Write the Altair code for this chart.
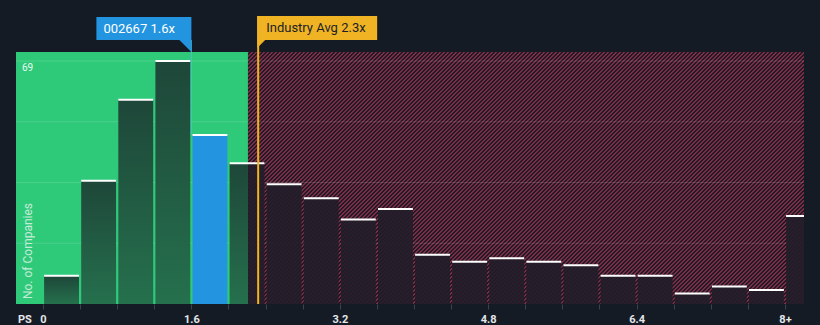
import math
import altair as alt
import pandas as pd

# ---------------- data ----------------
bin_starts = [0.0, 0.4, 0.8, 1.2, 1.6, 2.0, 2.4, 2.8, 3.2, 3.6, 4.0,
              4.4, 4.8, 5.2, 5.6, 6.0, 6.4, 6.8, 7.2, 7.6, 8.0]
counts = [8, 35, 58, 69, 48, 40, 34, 30, 24, 27, 14,
          12, 13, 12, 11, 8, 8, 3, 5, 4, 25]
bin_width = 0.4
tick_values = [0, 1.6, 3.2, 4.8, 6.4, 8.0]
tick_labels = ["0", "1.6", "3.2", "4.8", "6.4", "8+"]
grid_values = [17.25, 34.5, 51.75, 69]
max_label = "69"
company_ps = 1.6
industry_avg = 2.32
industry_label = "Industry Avg 2.3x"
company_label = "002667 1.6x"
green_zone_end = 2.21

# ---------------- layout / style ----------------
W, H = 788, 252
XMIN, XMAX = -0.291, 8.205
YMAX = 71.56
BG = "#151b24"
GREEN = "#2fc97a"
BLUE = "#2394df"
GOLD = "#f0b323"
GAP = 0.012

xscale = alt.Scale(domain=[XMIN, XMAX], nice=False, zero=False)
yscale = alt.Scale(domain=[0, YMAX], nice=False, zero=False)

edges = [round(bin_starts[0] + bin_width * i, 2) for i in range(len(bin_starts))]
expr = "''"
for v, l in reversed(list(zip(tick_values, tick_labels))):
    expr = f"round(datum.value*10)=={int(round(v*10))} ? '{l}' : ({expr})"

xaxis = alt.Axis(values=edges, labelExpr=expr, domain=False, grid=False,
                 ticks=True, tickSize=5, tickColor="#3b424c", tickWidth=1,
                 labelColor="#e4e7eb", labelFontSize=11, labelFont="Roboto",
                 labelFontWeight="bold", labelPadding=4, title=None,
                 labelOverlap=False, labelBound=False, labelFlush=False)


def X(field="x"):
    return alt.X(f"{field}:Q", scale=xscale, axis=xaxis)


def Y(field):
    return alt.Y(f"{field}:Q", scale=yscale, axis=None)


# bar segments
rows = []
tops = []
for s, c in zip(bin_starts, counts):
    a, b = s + GAP, s + bin_width - GAP
    tops.append({"x": a, "x2": b, "c": c})
    if abs(s - company_ps) < 1e-9:
        rows.append({"x": a, "x2": b, "c": c, "kind": "blue"})
    elif b <= green_zone_end:
        rows.append({"x": a, "x2": b, "c": c, "kind": "green"})
    elif a >= green_zone_end:
        rows.append({"x": a, "x2": b, "c": c, "kind": "red"})
    else:
        rows.append({"x": a, "x2": green_zone_end, "c": c, "kind": "green"})
        rows.append({"x": green_zone_end, "x2": b, "c": c, "kind": "red"})
bars = pd.DataFrame(rows)
tops = pd.DataFrame(tops)

# zones
green_zone = pd.DataFrame([{"x": XMIN, "x2": green_zone_end, "y": 0, "y2": YMAX}])
red_zone = pd.DataFrame([{"x": green_zone_end, "x2": XMAX, "y": 0, "y2": YMAX}])

# hatch gradient (diagonal stripes, 45 degrees, 4px horizontal period)
pxu = W / (XMAX - XMIN)
zw = (XMAX - green_zone_end) * pxu
zh = H
r = zh / zw
s_ = (1 + r) / (1 + r * r)
L_need = (zw + zh) / math.sqrt(2)
period = 4 / math.sqrt(2)
n = math.ceil(L_need / period)
s_ *= (n * period) / L_need
gx, gy = s_, s_ * r
stops = []
for k in range(n):
    a = k / n
    m = (k + 0.5) / n
    b = (k + 1) / n
    stops += [alt.GradientStop(color="#7b2d45", offset=a),
              alt.GradientStop(color="#7b2d45", offset=m),
              alt.GradientStop(color="#1f1a25", offset=m),
              alt.GradientStop(color="#1f1a25", offset=b)]
hatch = alt.Gradient(gradient="linear", stops=stops, x1=0, y1=0, x2=gx, y2=gy)

green_layer = alt.Chart(green_zone).mark_rect(color=GREEN).encode(
    x=X(), x2="x2", y=Y("y"), y2="y2")
red_layer = alt.Chart(red_zone).mark_rect(color=hatch).encode(
    x=X(), x2="x2", y=Y("y"), y2="y2")

grid = alt.Chart(pd.DataFrame({"g": grid_values})).mark_rule(
    color="#ffffff", opacity=0.13, strokeWidth=1).encode(
    y=Y("g"), x=alt.value(0), x2=alt.value(W))

green_grad = alt.Gradient(gradient="linear",
                          stops=[alt.GradientStop(color="#1e4739", offset=0),
                                 alt.GradientStop(color="#25704d", offset=1)],
                          x1=0, y1=0, x2=0, y2=1)

gbars = alt.Chart(bars).transform_filter("datum.kind=='green'").mark_rect(
    color=green_grad, clip=True).encode(x=X(), x2="x2", y=Y("c"), y2=alt.datum(0))
bbars = alt.Chart(bars).transform_filter("datum.kind=='blue'").mark_rect(
    color=BLUE, clip=True).encode(x=X(), x2="x2", y=Y("c"), y2=alt.datum(0))
rbars = alt.Chart(bars).transform_filter("datum.kind=='red'").mark_rect(
    color="#221d29", opacity=0.93, clip=True).encode(x=X(), x2="x2", y=Y("c"), y2=alt.datum(0))

top_lines = alt.Chart(tops).mark_rule(color="#ffffff", strokeWidth=2, clip=True).encode(
    x=X(), x2="x2", y=Y("c"))

comp_df = pd.DataFrame([{"x": company_ps,
                         "c": counts[[abs(s - company_ps) < 1e-9 for s in bin_starts].index(True)]}])
ind_df = pd.DataFrame([{"x": industry_avg}])

comp_line = alt.Chart(comp_df).mark_rule(color="#4cc3c4", strokeWidth=1.2, opacity=0.8).encode(
    x=X(), y=Y("c"), y2=alt.value(-12))
ind_line = alt.Chart(ind_df).mark_rule(color=GOLD, strokeWidth=2).encode(
    x=X(), y=alt.value(-36), y2=alt.value(H))

comp_box = alt.Chart(comp_df).mark_rect(color=BLUE, xOffset=-95, x2Offset=0).encode(
    x=X(), x2="x", y=alt.value(-35), y2=alt.value(-12))
comp_tri = alt.Chart(comp_df).mark_point(
    shape="M -1 -1 L 1 -1 L 1 1 Z", size=144, filled=True, opacity=1,
    color=BLUE, xOffset=-6).encode(x=X(), y=alt.value(-6))
comp_text = alt.Chart(comp_df).mark_text(
    text=company_label, align="left", baseline="middle", dx=-88, font="Roboto",
    fontSize=13, color="#ffffff").encode(x=X(), y=alt.value(-23.5))

ind_box = alt.Chart(ind_df).mark_rect(color=GOLD, xOffset=-1, x2Offset=119).encode(
    x=X(), x2="x", y=alt.value(-36), y2=alt.value(-12))
ind_tri = alt.Chart(ind_df).mark_point(
    shape="M -1 -1 L 1 -1 L -1 1 Z", size=64, filled=True, opacity=1,
    color=GOLD, xOffset=3).encode(x=X(), y=alt.value(-8))
ind_text = alt.Chart(ind_df).mark_text(
    text=industry_label, align="left", baseline="middle", dx=8, font="Roboto",
    fontSize=13, color="#1b1f27").encode(x=X(), y=alt.value(-24))

lbl69 = alt.Chart(pd.DataFrame([{"t": max_label}])).mark_text(
    align="left", baseline="middle", font="Roboto", fontSize=10,
    color="#eafaf1").encode(text="t:N", x=alt.value(6), y=alt.value(16))
ytitle = alt.Chart(pd.DataFrame([{"t": "No. of Companies"}])).mark_text(
    align="center", baseline="middle", angle=270, font="Roboto", fontSize=12,
    color="#e8f6ee", opacity=0.8).encode(text="t:N", x=alt.value(12), y=alt.value(199))
ps = alt.Chart(pd.DataFrame([{"t": "PS"}])).mark_text(
    align="left", baseline="middle", font="Roboto", fontSize=11, fontWeight="bold",
    color="#e4e7eb").encode(text="t:N", x=alt.value(2), y=alt.value(268))

chart = alt.layer(
    green_layer, red_layer, grid, gbars, bbars, rbars, top_lines,
    comp_line, ind_line, comp_box, comp_tri, comp_text,
    ind_box, ind_tri, ind_text, lbl69, ytitle, ps,
).properties(
    width=W, height=H,
    autosize=alt.AutoSizeParams(type="none"),
    padding={"left": 16, "top": 52, "right": 16, "bottom": 21},
    background=BG,
).configure_view(stroke=None)

chart.save("out.html", embed_options={"renderer": "svg", "actions": False})
